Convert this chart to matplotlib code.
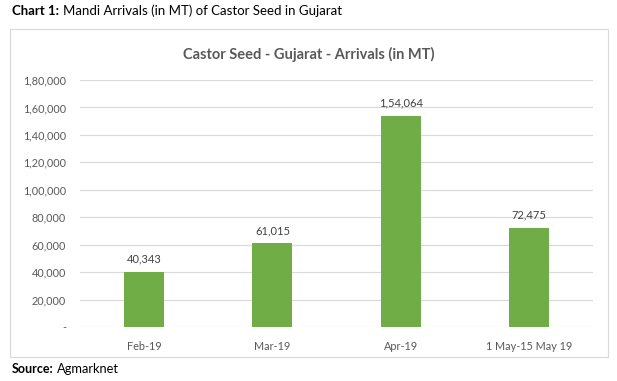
import matplotlib
matplotlib.use("Agg")
import matplotlib.pyplot as plt
from matplotlib.patches import Rectangle
from matplotlib.ticker import FuncFormatter

categories = ["Feb-19", "Mar-19", "Apr-19", "1 May-15 May 19"]
values = [40343, 61015, 154064, 72475]
yticks = [0, 20000, 40000, 60000, 80000, 100000, 120000, 140000, 160000, 180000]

def indian(v):
    v = int(round(v))
    if v == 0:
        return "-"
    s = str(v)
    if len(s) <= 3:
        return s
    last3 = s[-3:]
    rest = s[:-3]
    parts = []
    while len(rest) > 2:
        parts.insert(0, rest[-2:])
        rest = rest[:-2]
    if rest:
        parts.insert(0, rest)
    return ",".join(parts + [last3])

plt.rcParams['font.family'] = ['Lato', 'DejaVu Sans']
W, H = 617, 381
fig = plt.figure(figsize=(W / 100, H / 100), dpi=100)
fig.patch.set_facecolor("white")

# chart frame
fig.patches.append(Rectangle((10 / W, 1 - 357 / H), 598 / W, 328 / H,
                             transform=fig.transFigure, fill=False,
                             edgecolor="#D9D9D9", linewidth=0.8))

ax = fig.add_axes([80 / W, 1 - 327 / H, 513 / W, 247 / H])
x = list(range(len(categories)))
bars = ax.bar(x, values, width=0.31, color="#70AD47", zorder=3)
ax.set_xlim(-0.5, len(categories) - 0.5)
ax.set_ylim(0, 180000)
ax.set_yticks(yticks)
ax.yaxis.set_major_formatter(FuncFormatter(lambda v, p: indian(v)))
ax.set_xticks(x)
ax.set_xticklabels(categories)
ax.grid(axis="y", color="#D9D9D9", linewidth=0.8, zorder=0)
for s in ax.spines.values():
    s.set_visible(False)
ax.tick_params(axis="both", length=0, colors="#595959", labelsize=7.8)
ax.tick_params(axis="y", pad=10)
ax.tick_params(axis="x", pad=10)
for b, v in zip(bars, values):
    ax.annotate(indian(v), (b.get_x() + b.get_width() / 2, v),
                xytext=(0, 5), textcoords="offset points",
                ha="center", va="bottom", fontsize=8, color="#404040")

fig.text(0.5 * (10 + 608) / W, 1 - 54 / H, "Castor Seed - Gujarat - Arrivals (in MT)",
         ha="center", va="center", fontsize=10.5, fontweight="bold", color="#595959")
fig.text(12 / W, 1 - 11 / H, "Chart 1:", ha="left", va="center", fontsize=9.5,
         fontweight="bold", color="black")
fig.text(63 / W, 1 - 11 / H, "Mandi Arrivals (in MT) of Castor Seed in Gujarat",
         ha="left", va="center", fontsize=9.5, color="black")
fig.text(12 / W, 1 - 369 / H, "Source:", ha="left", va="center", fontsize=9,
         fontweight="bold", color="black")
fig.text(57 / W, 1 - 369 / H, "Agmarknet", ha="left", va="center", fontsize=9.3,
         color="black")

fig.savefig("out.png", dpi=100, facecolor="white")
